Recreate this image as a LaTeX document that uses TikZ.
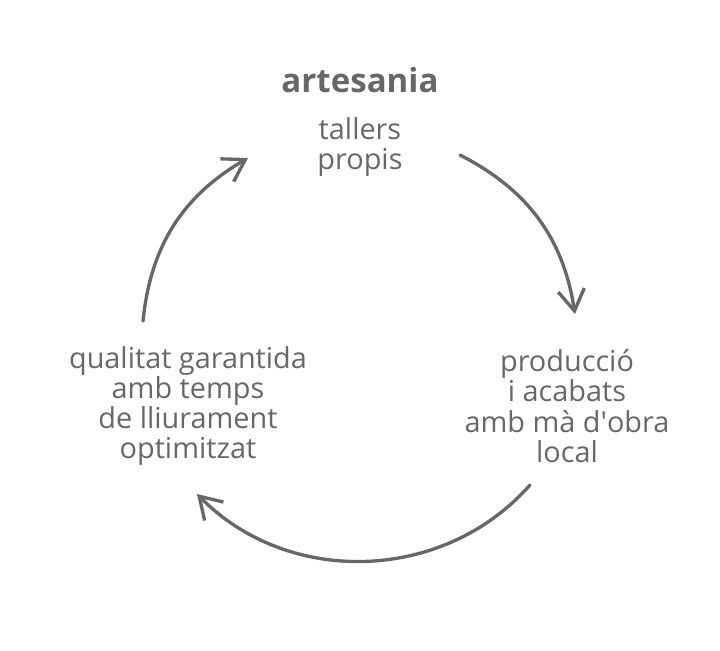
\documentclass[tikz,border=0pt]{standalone}
\usepackage{fontspec}
\setmainfont{Open Sans}
\usepackage{xcolor}
\usetikzlibrary{shapes,arrows.meta}
\definecolor{pencil}{HTML}{676767}

\begin{document}
\begin{tikzpicture}[x=0.01cm, y=-0.01cm, node distance=19pt, >={Straight Barb[length=6pt,width=7.5pt,line width=0.95pt]}]
    \tikzstyle{label} = [text=pencil, align=center, font=\fontsize{8.2}{8.6}\selectfont]
    \tikzstyle{title} = [text=pencil, font=\fontsize{9.4}{10}\selectfont\bfseries]
    \tikzstyle{line} = [draw=pencil, line width=0.95pt, line cap=round, ->]

    \useasboundingbox (0,0) rectangle (720,650);

    \node [label] (workshops) at (360,147) {tallers\\propis};
    \node [title, above of=workshops] (craft) {artesania};
    \node [label] (making) at (567,406) {producció\\i acabats\\amb mà d\textquotesingle obra\\local};
    \node [label] (quality) at (188,406) {qualitat garantida\\amb temps\\de lliurament\\optimitzat};

    % ends of the three arcs
    \coordinate (topstart) at (460,155);
    \coordinate (topend) at (575,314);
    \coordinate (lowstart) at (530,485);
    \coordinate (lowend) at (197,494);
    \coordinate (leftstart) at (143,321);
    \coordinate (leftend) at (248,158);

    \path [line] (topstart) to[bend left=27] (topend);
    \path [line] (lowstart) to[bend left=47] (lowend);
    \path [line] (leftstart) to[bend left=27] (leftend);
\end{tikzpicture}
\end{document}
